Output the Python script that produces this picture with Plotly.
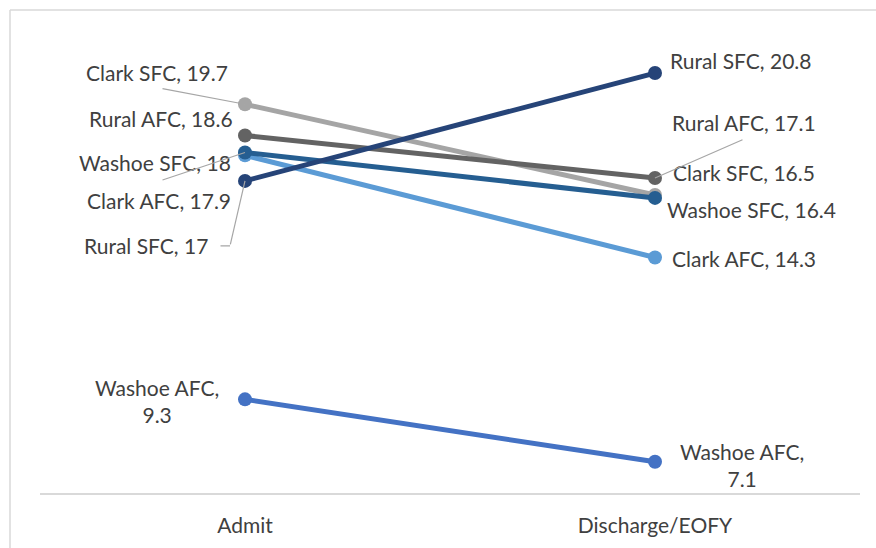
import plotly.graph_objects as go

# Categories and series values
categories = ["Admit", "Discharge/EOFY"]
series_names = ["Washoe AFC", "Clark AFC", "Clark SFC", "Rural AFC", "Washoe SFC", "Rural SFC"]
admit_values = [9.3, 17.9, 19.7, 18.6, 18.0, 17.0]
discharge_values = [7.1, 14.3, 16.5, 17.1, 16.4, 20.8]
series_colors = ["#4472C4", "#5B9BD5", "#A5A5A5", "#636363", "#255E91", "#264478"]

FONT = "Lato"
FSIZE = 21
TEXT_COLOR = "#404040"
LEADER_COLOR = "#A6A6A6"

# label offsets in pixels from each point: (xshift, yshift, two_line)
admit_label_pos = {
    "Washoe AFC": (-24, -2, True),
    "Clark AFC": (-12, -45, False),
    "Clark SFC": (-15, 32, False),
    "Rural AFC": (-10, 17, False),
    "Washoe SFC": (-12, -10, False),
    "Rural SFC": (-35, -65, False),
}
discharge_label_pos = {
    "Washoe AFC": (23, -3, True),
    "Clark AFC": (15, -1, False),
    "Clark SFC": (16, 23, False),
    "Rural AFC": (15, 56, False),
    "Washoe SFC": (10, -12, False),
    "Rural SFC": (13, 13, False),
}
# leader lines: (category index, series, ax, ay, xshift, yshift)
leaders = [
    (0, "Clark SFC", -84, -16, 0, 0),
    (0, "Washoe SFC", -84, 28, 0, 0),
    (0, "Rural SFC", -15, 65, 0, 0),
    (0, "Rural SFC", -11, 0, -15, -65),
    (1, "Rural AFC", 89, -39, 0, 0),
]

fig = go.Figure()
for name, a, d, c in zip(series_names, admit_values, discharge_values, series_colors):
    fig.add_trace(go.Scatter(
        x=categories, y=[a, d], name=name, mode="lines+markers",
        line=dict(color=c, width=5),
        marker=dict(color=c, size=14),
        showlegend=False,
    ))

annotations = []
values = {0: dict(zip(series_names, admit_values)), 1: dict(zip(series_names, discharge_values))}
for idx, pos in ((0, admit_label_pos), (1, discharge_label_pos)):
    for name in series_names:
        v = values[idx][name]
        xs, ys, two = pos[name]
        sep = ",<br>" if two else ", "
        annotations.append(dict(
            x=categories[idx], y=v, xref="x", yref="y",
            text=f"{name}{sep}{v:g}", showarrow=False,
            xanchor="right" if idx == 0 else "left", yanchor="middle",
            align="center" if two else ("right" if idx == 0 else "left"),
            xshift=xs, yshift=ys,
            font=dict(family=FONT, size=FSIZE, color=TEXT_COLOR),
        ))

for idx, name, ax, ay, xs, ys in leaders:
    annotations.append(dict(
        x=categories[idx], y=values[idx][name], xref="x", yref="y",
        text="", showarrow=True, arrowhead=0, arrowwidth=1.2,
        arrowcolor=LEADER_COLOR, ax=ax, ay=ay, xshift=xs, yshift=ys,
        standoff=0, startstandoff=0,
    ))

# plot area spans px 40..860 horizontally, 39..493 vertically
L, R, T, B = 40, 16, 39, 55
W, H = 876, 548
pw, ph = W - L - R, H - T - B
def px(xp):
    return (xp - L) / pw
def py(yp):
    return (H - B - yp) / ph

shapes = [
    dict(type="line", xref="paper", yref="paper", x0=px(10), x1=px(W + 5), y0=py(10), y1=py(10),
         line=dict(color="#D9D9D9", width=1.5)),
    dict(type="line", xref="paper", yref="paper", x0=px(10), x1=px(10), y0=py(10), y1=py(H + 5),
         line=dict(color="#D9D9D9", width=1.5)),
]

fig.update_layout(
    width=W, height=H,
    margin=dict(l=L, r=R, t=T, b=B, autoexpand=False),
    paper_bgcolor="white", plot_bgcolor="white",
    annotations=annotations, shapes=shapes,
    font=dict(family=FONT, size=FSIZE, color=TEXT_COLOR),
    xaxis=dict(
        type="category", range=[-0.5, 1.5], showgrid=False, zeroline=False,
        showline=True, linecolor="#D9D9D9", linewidth=1.5,
        ticks="", ticklabelstandoff=13, automargin=False,
        tickfont=dict(family=FONT, size=FSIZE, color=TEXT_COLOR),
    ),
    yaxis=dict(range=[6, 22], visible=False, showgrid=False, zeroline=False, automargin=False),
)

fig.write_html("out.html")
